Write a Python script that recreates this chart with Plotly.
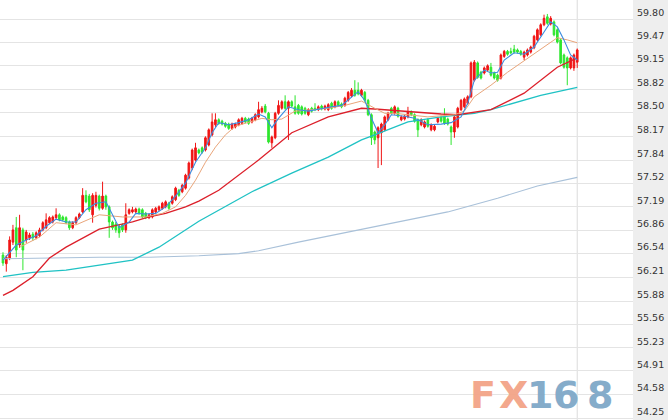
import plotly.graph_objects as go

open_ = [56.52,56.40,56.48,56.70,56.90,56.66,56.87,56.73,56.76,56.81,56.76,56.79,56.87,56.90,56.97,56.98,57.04,57.08,57.05,57.04,
         56.98,56.90,56.97,57.04,57.12,57.35,57.34,57.08,57.21,57.34,57.17,57.34,57.19,56.98,56.95,56.92,56.94,56.87,57.10,57.12,
         57.12,57.16,57.15,57.10,57.04,57.05,57.12,57.15,57.17,57.19,57.24,57.24,57.29,57.42,57.40,57.45,57.59,57.73,57.84,57.98,
         58.01,57.98,58.05,58.19,58.33,58.40,58.38,58.35,58.34,58.28,58.30,58.33,58.35,58.42,58.41,58.37,58.40,58.44,58.51,58.59,
         58.49,58.08,58.15,58.49,58.56,58.65,58.56,58.65,58.58,58.60,58.58,58.56,58.47,58.56,58.56,58.54,58.59,58.55,58.54,58.63,
         58.58,58.65,58.62,58.60,58.67,58.73,58.81,58.81,58.74,58.78,58.67,58.47,58.23,58.15,58.22,58.26,58.40,58.56,58.49,58.56,
         58.40,58.41,58.44,58.51,58.47,58.40,58.33,58.30,58.40,58.26,58.26,58.37,58.44,58.44,58.41,58.30,58.23,58.30,58.54,58.58,
         58.63,58.72,58.95,59.19,59.06,59.05,59.09,59.13,59.05,59.02,58.98,59.28,59.35,59.35,59.38,59.37,59.35,59.27,59.30,59.34,
         59.40,59.51,59.58,59.72,59.83,59.73,59.76,59.65,59.51,59.30,59.26,59.12,59.12,59.20]
high = [56.56,56.52,56.78,56.94,57.05,57.08,56.90,56.87,56.83,56.84,56.85,56.90,56.99,57.10,57.06,57.07,57.17,57.10,57.07,57.06,
        57.00,56.99,57.06,57.11,57.45,57.42,57.37,57.38,57.40,57.36,57.54,57.36,57.21,57.00,56.98,56.95,56.96,57.24,57.17,57.19,
        57.18,57.18,57.17,57.12,57.10,57.17,57.19,57.21,57.26,57.28,57.26,57.35,57.47,57.44,57.51,57.65,57.82,58.00,58.08,58.00,
        58.03,58.17,58.28,58.49,58.49,58.42,58.40,58.37,58.36,58.36,58.36,58.42,58.44,58.44,58.43,58.44,58.49,58.65,58.59,58.62,
        58.51,58.18,58.51,58.67,58.67,58.74,58.67,58.67,58.74,58.62,58.60,58.58,58.56,58.58,58.63,58.60,58.61,58.61,58.63,58.65,
        58.67,58.67,58.64,58.72,58.80,58.84,58.95,58.92,58.83,58.80,58.69,58.49,58.25,58.31,58.36,58.46,58.51,58.58,58.60,58.58,
        58.46,58.47,58.58,58.53,58.49,58.42,58.42,58.39,58.42,58.35,58.33,58.44,58.46,58.56,58.43,58.32,58.46,58.58,58.69,58.71,
        58.74,59.21,59.23,59.21,59.08,59.14,59.17,59.19,59.07,59.04,59.32,59.37,59.37,59.40,59.44,59.39,59.37,59.36,59.39,59.43,
        59.58,59.67,59.74,59.86,59.87,59.84,59.78,59.67,59.53,59.32,59.28,59.28,59.32,59.39]
low = [56.37,56.29,56.45,56.66,56.49,56.62,56.31,56.69,56.73,56.72,56.74,56.77,56.85,56.88,56.95,56.96,57.02,56.99,56.99,56.95,
       56.87,56.88,56.95,57.02,57.10,57.24,57.12,56.97,57.18,57.14,57.15,57.15,56.76,56.87,56.83,56.76,56.84,56.83,57.08,57.10,
       57.10,57.08,57.03,57.02,57.02,57.03,57.10,57.13,57.15,57.17,57.15,57.22,57.27,57.33,57.38,57.43,57.57,57.70,57.82,57.92,
       57.93,57.96,58.03,58.17,58.30,58.33,58.32,58.29,58.26,58.26,58.28,58.31,58.33,58.35,58.33,58.35,58.38,58.42,58.49,58.49,
       58.07,58.01,58.13,58.47,58.54,58.54,58.12,58.57,58.47,58.47,58.46,58.47,58.45,58.50,58.52,58.52,58.53,58.53,58.52,58.54,
       58.56,58.58,58.56,58.58,58.65,58.71,58.72,58.74,58.72,58.65,58.45,58.05,58.06,57.73,57.77,58.24,58.38,58.47,58.47,58.43,
       58.38,58.39,58.42,58.45,58.36,58.16,58.31,58.28,58.29,58.24,58.24,58.35,58.36,58.33,58.32,58.05,58.15,58.28,58.52,58.56,
       58.61,58.70,58.93,58.97,58.96,59.03,59.07,59.00,58.96,58.93,58.96,59.26,59.29,59.31,59.32,59.32,59.29,59.23,59.28,59.32,
       59.38,59.49,59.56,59.70,59.72,59.71,59.56,59.46,59.17,59.11,58.88,59.10,59.08,59.12]
close = [56.41,56.49,56.73,56.87,56.59,56.90,56.59,56.84,56.80,56.76,56.83,56.87,56.97,57.01,57.04,57.05,57.08,57.01,57.01,56.97,
         56.90,56.97,57.04,57.09,57.35,57.26,57.15,57.35,57.35,57.17,57.34,57.19,56.98,56.90,56.87,56.83,56.87,57.08,57.15,57.15,
         57.16,57.10,57.05,57.04,57.08,57.15,57.17,57.19,57.24,57.26,57.17,57.33,57.45,57.35,57.49,57.63,57.80,57.98,58.01,57.94,
         57.95,58.15,58.26,58.37,58.40,58.35,58.34,58.31,58.28,58.34,58.34,58.40,58.42,58.37,58.35,58.42,58.47,58.54,58.56,58.51,
         58.09,58.16,58.49,58.60,58.65,58.56,58.65,58.59,58.49,58.49,58.48,58.49,58.54,58.52,58.54,58.58,58.55,58.59,58.61,58.56,
         58.65,58.60,58.58,58.70,58.78,58.81,58.74,58.76,58.81,58.67,58.47,58.15,58.12,58.29,58.34,58.44,58.49,58.49,58.58,58.45,
         58.44,58.45,58.51,58.47,58.38,58.26,58.40,58.37,58.31,58.33,58.31,58.42,58.38,58.35,58.34,58.23,58.44,58.56,58.67,58.69,
         58.72,59.19,59.20,58.99,58.98,59.12,59.15,59.02,58.98,58.95,59.30,59.35,59.31,59.33,59.34,59.34,59.31,59.34,59.37,59.41,
         59.56,59.65,59.72,59.81,59.74,59.81,59.58,59.48,59.19,59.13,59.12,59.26,59.30,59.37]

ma5_idx = [0,4,7,10,13,16,19,22,25,28,31,33,35,38,40,43,46,49,52,55,58,61,63,65,68,71,74,77,79,81,83,86,89,92,96,99,102,105,107,
           109,111,113,115,117,121,124,128,132,135,138,140,142,145,147,149,151,154,157,160,163,165,167,169,171,173]
ma5_val = [56.45,56.66,56.73,56.79,56.92,57.02,56.98,56.98,57.15,57.24,57.26,57.08,56.90,56.98,57.10,57.09,57.10,57.19,57.34,57.52,
           57.81,58.01,58.22,58.36,58.33,58.36,58.40,58.48,58.44,58.29,58.42,58.58,58.54,58.52,58.56,58.58,58.60,58.72,58.79,
           58.67,58.42,58.22,58.33,58.47,58.45,58.42,58.33,58.34,58.36,58.44,58.63,58.95,59.09,59.05,59.06,59.23,59.33,59.31,59.41,
           59.62,59.76,59.69,59.51,59.30,59.23]
ma10_idx = [5,11,16,22,29,36,43,48,52,55,58,61,64,67,70,74,78,81,84,88,98,103,108,112,115,118,128,136,139,142,147,152,157,161,
            165,167,170,173]
ma10_val = [56.63,56.77,56.97,56.94,57.08,57.05,57.05,57.10,57.19,57.35,57.56,57.81,58.02,58.19,58.31,58.37,58.42,58.40,58.41,
            58.52,58.56,58.60,58.66,58.56,58.49,58.49,58.44,58.47,58.52,58.72,58.88,59.06,59.22,59.34,59.48,59.54,59.51,59.47]
ma30_idx = [0,3,9,14,19,24,29,39,44,49,55,59,65,77,87,98,108,112,122,132,137,142,147,157,162,167,173]
ma30_val = [55.96,56.03,56.22,56.48,56.63,56.76,56.88,56.98,57.05,57.10,57.19,57.27,57.42,57.84,58.22,58.44,58.56,58.55,58.51,
            58.48,58.47,58.51,58.54,58.77,58.95,59.13,59.26]
ma60_idx = [0,9,19,29,39,47,53,59,75,87,98,108,112,122,132,142,147,157,162,173]
ma60_val = [56.22,56.28,56.31,56.38,56.45,56.63,56.81,56.99,57.40,57.66,57.88,58.12,58.19,58.37,58.44,58.49,58.54,58.67,58.74,58.85]
ma120_idx = [0,14,29,44,59,71,77,89,104,119,134,149,161,173]
ma120_val = [56.47,56.48,56.49,56.49,56.51,56.54,56.58,56.70,56.84,56.97,57.12,57.31,57.48,57.60]

y_ticks = [59.80,59.47,59.15,58.82,58.50,58.17,57.84,57.52,57.19,56.86,56.54,56.21,55.88,55.56,55.23,54.91,54.58,54.25]

logo_chars = ['F', 'X', '1', '6', '8']
logo_colors = ['#f3a487', '#f3a487', '#7fa8c8', '#7fa8c8', '#7fa8c8']

idx = list(range(len(close)))

fig = go.Figure()
fig.add_trace(go.Candlestick(
    x=idx, open=open_, high=high, low=low, close=close,
    increasing=dict(line=dict(color='#f01515', width=1), fillcolor='#f01515'),
    decreasing=dict(line=dict(color='#2ee62e', width=1), fillcolor='#2ee62e'),
    whiskerwidth=0, hoverinfo='skip'))

lines = [
    (ma120_idx, ma120_val, '#a9c1d9', 1.1),
    (ma60_idx, ma60_val, '#1fc2c4', 1.3),
    (ma30_idx, ma30_val, '#dc1f2a', 1.3),
    (ma10_idx, ma10_val, '#e9a57a', 1.0),
    (ma5_idx, ma5_val, '#3a8de0', 1.1),
]
for xs, ys, col, w in lines:
    fig.add_trace(go.Scatter(x=xs, y=ys, mode='lines', line=dict(color=col, width=w), hoverinfo='skip'))

fig.add_shape(type='line', x0=idx[-1], x1=idx[-1], y0=0, y1=1, yref='paper',
              line=dict(color='#dcdcdc', width=1), layer='below')

# watermark, one glyph per annotation to mimic the wide logo lettering
logo_x = [483, 513, 540, 566, 600]
for ch, col, px in zip(logo_chars, logo_colors, logo_x):
    fig.add_annotation(text=ch, xref='paper', yref='paper', x=px / 633, y=1 - 395 / 420,
                       xanchor='center', yanchor='middle', showarrow=False,
                       font=dict(family='DejaVu Sans', size=38, color=col, weight='bold'), opacity=0.95)

fig.update_layout(
    width=668, height=420,
    margin=dict(l=0, r=35, t=0, b=0),
    paper_bgcolor='#eeeeee', plot_bgcolor='white',
    showlegend=False,
    xaxis=dict(range=[-0.9, 189.8], visible=False, rangeslider=dict(visible=False)),
    yaxis=dict(side='right', range=[54.229, 60.064], tickvals=y_ticks,
               ticktext=[f'{v:.2f}' for v in y_ticks], ticklabelposition='outside top',
               ticklen=0, ticklabelstandoff=3,
               showgrid=True, gridcolor='#e4e4e4', gridwidth=1, zeroline=False, ticks='',
               tickfont=dict(family='DejaVu Sans', size=9.5, color='#333333'), automargin=False),
)

fig.write_html('out.html', config={'displayModeBar': False},
               post_script="document.body.style.margin='0';")
